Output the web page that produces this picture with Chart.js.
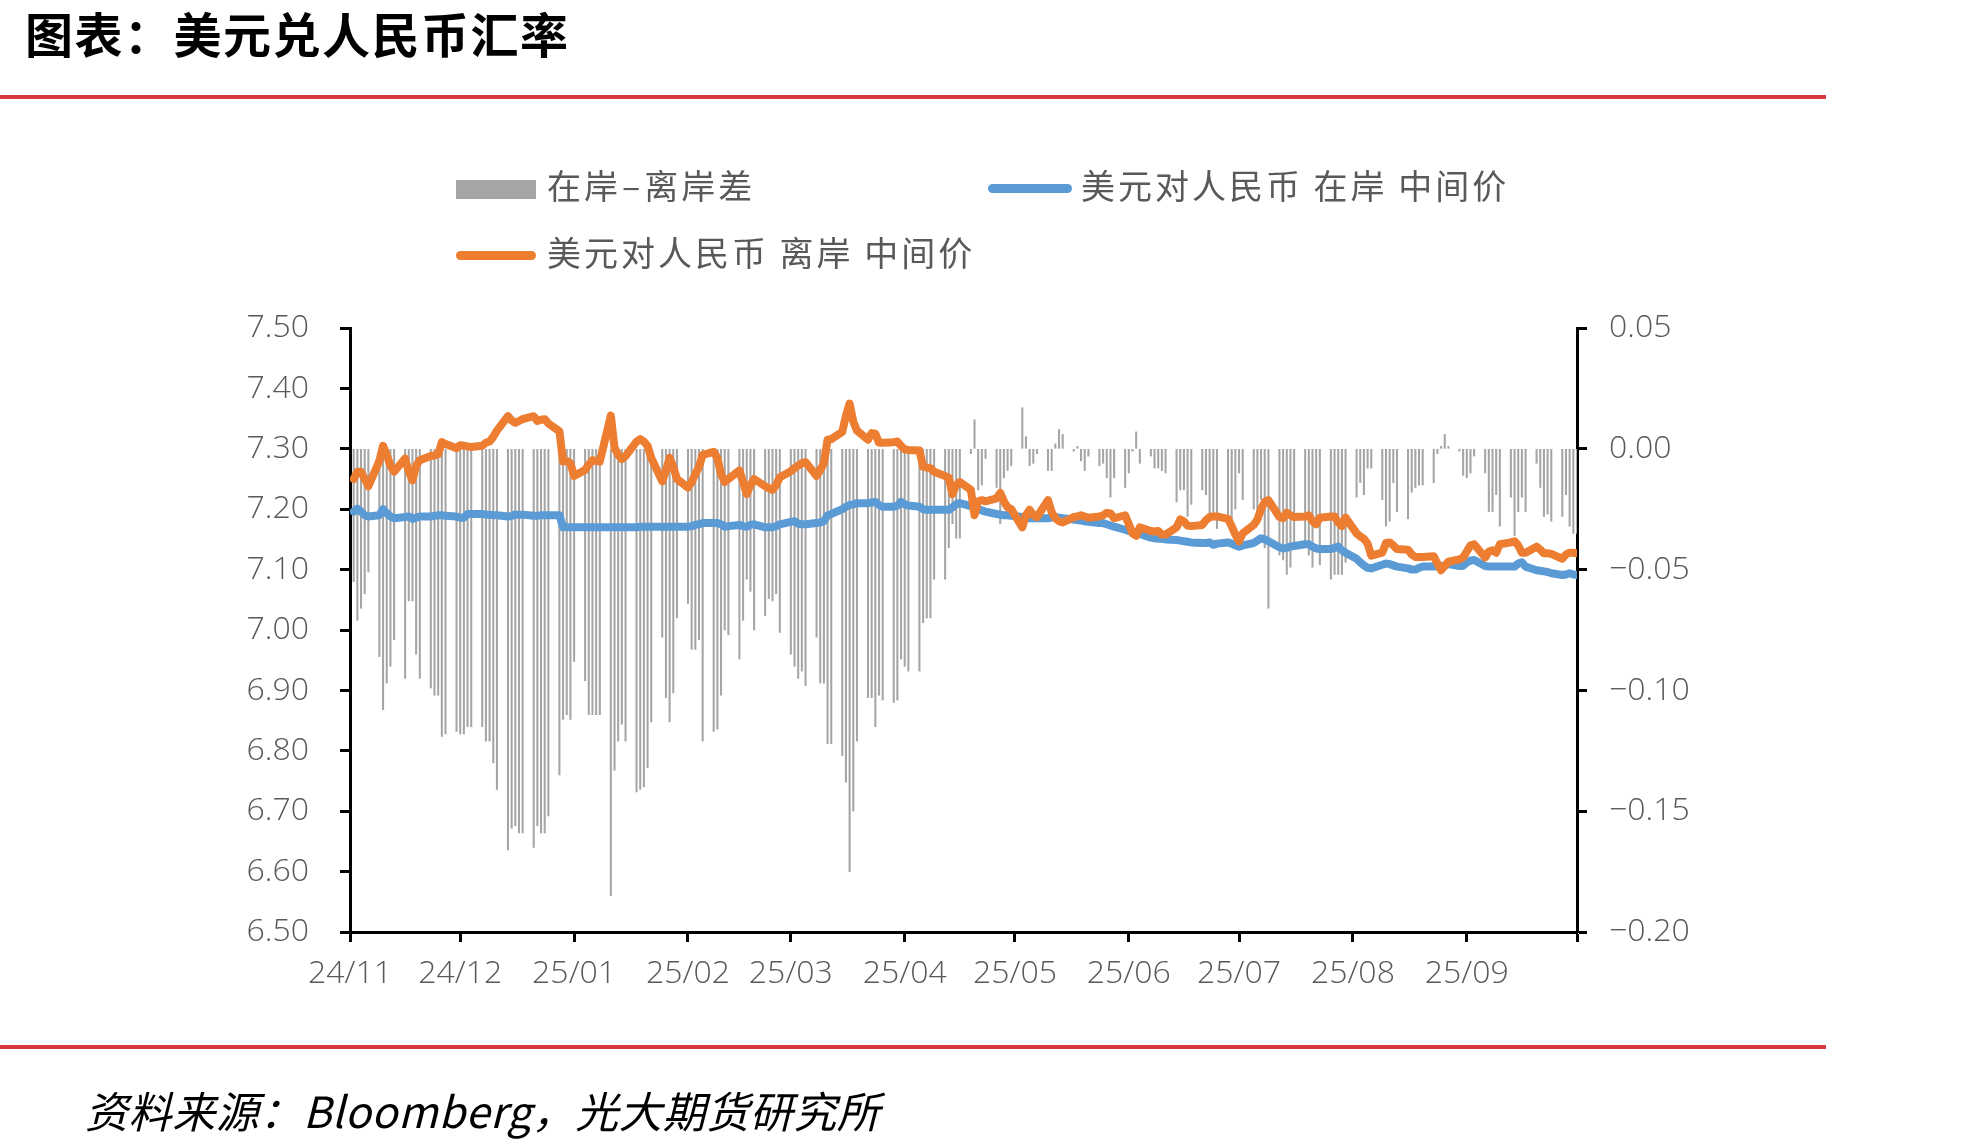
<!DOCTYPE html>
<html>
<head>
<meta charset="utf-8">
<script src="https://cdn.jsdelivr.net/npm/chart.js@4.4.1/dist/chart.umd.min.js"></script>
<style>
  body { margin: 0; width: 1987px; height: 1146px; background: #fff; position: relative; overflow: hidden;
         font-family: "Noto Sans CJK SC", sans-serif; }
  canvas { position: absolute; left: 0; top: 0; }
  #title { position: absolute; left: 25px; top: 8px; font-size: 48px; line-height: 48px; font-weight: 700;
           color: #000; letter-spacing: 1.5px; }
  .rule { position: absolute; left: 0; width: 1826px; height: 4px; background: #d7383b; }
  .lg { position: absolute; font-size: 34px; line-height: 34px; color: #595959; letter-spacing: 3px; white-space: pre; }
  .dash { margin: 0 1px; }
  .sw { position: absolute; }
  #source { position: absolute; left: 85px; top: 1088px; font-size: 43px; line-height: 43px; font-style: italic;
            color: #000; letter-spacing: 0.6px; white-space: pre; }
</style>
</head>
<body>
<canvas id="fxChart" width="1987" height="1146"></canvas>
<div id="title">图表：美元兑人民币汇率</div>
<div class="rule" style="top:95px"></div>
<div class="rule" style="top:1045px"></div>

<div class="sw" style="left:456px;top:180px;width:80px;height:19px;background:#a5a5a5"></div>
<div class="lg" style="left:547px;top:168px">在岸<span class="dash">–</span>离岸差</div>
<div class="sw" style="left:988px;top:184px;width:84px;height:9px;border-radius:5px;background:#5b9bd5"></div>
<div class="lg" style="left:1081px;top:168px">美元对人民币 在岸 中间价</div>
<div class="sw" style="left:456px;top:251px;width:80px;height:9px;border-radius:5px;background:#ed7d31"></div>
<div class="lg" style="left:547px;top:235px">美元对人民币 离岸 中间价</div>

<div id="source">资料来源：Bloomberg，光大期货研究所</div>

<script>
// month tick labels, one tick per month (axis runs 2024-11-03 .. 2025-10-03)
const monthLabels = ['24/11', '24/12', '25/01', '25/02', '25/03', '25/04', '25/05', '25/06', '25/07', '25/08', '25/09'];

// USD/CNY onshore, one value per weekday from 2024-11-04 to 2025-10-03
const onshore = [
  // 2024-11
  7.196, 7.201, 7.196, 7.190, 7.188, 7.190, 7.200, 7.193, 7.188, 7.185, 7.187, 7.188, 7.184, 7.186, 7.188, 7.188, 7.189, 7.190, 7.190, 7.189,
  // 2024-12
  7.188, 7.186, 7.186, 7.192, 7.192, 7.192, 7.191, 7.191, 7.190, 7.190, 7.188, 7.189, 7.191, 7.191, 7.191, 7.189, 7.189, 7.190, 7.190, 7.190, 7.190, 7.170,
  // 2025-01
  7.170, 7.170, 7.170, 7.170, 7.170, 7.170, 7.170, 7.170, 7.170, 7.170, 7.170, 7.170, 7.170, 7.170, 7.171, 7.171, 7.171, 7.171, 7.171, 7.171, 7.171, 7.171, 7.171,
  // 2025-02
  7.171, 7.172, 7.174, 7.175, 7.177, 7.177, 7.177, 7.175, 7.171, 7.172, 7.174, 7.172, 7.171, 7.174, 7.175, 7.170, 7.170, 7.170, 7.172, 7.175,
  // 2025-03
  7.179, 7.180, 7.176, 7.175, 7.175, 7.177, 7.178, 7.180, 7.190, 7.192, 7.200, 7.204, 7.207, 7.208, 7.210, 7.210, 7.211, 7.212, 7.207, 7.204, 7.204,
  // 2025-04
  7.206, 7.212, 7.208, 7.206, 7.204, 7.200, 7.199, 7.199, 7.199, 7.199, 7.199, 7.203, 7.208, 7.210, 7.205, 7.203, 7.200, 7.198, 7.196, 7.192, 7.191, 7.190,
  // 2025-05
  7.190, 7.189, 7.187, 7.186, 7.185, 7.185, 7.185, 7.185, 7.186, 7.187, 7.186, 7.185, 7.183, 7.182, 7.181, 7.180, 7.179, 7.177, 7.177, 7.175, 7.173, 7.171,
  // 2025-06
  7.166, 7.164, 7.162, 7.161, 7.159, 7.153, 7.152, 7.151, 7.151, 7.150, 7.149, 7.148, 7.147, 7.146, 7.145, 7.144, 7.144, 7.145, 7.141, 7.143, 7.145,
  // 2025-07
  7.143, 7.140, 7.138, 7.140, 7.144, 7.148, 7.152, 7.150, 7.147, 7.137, 7.135, 7.136, 7.138, 7.139, 7.142, 7.142, 7.138, 7.135, 7.134, 7.134, 7.136, 7.138, 7.132,
  // 2025-08
  7.128, 7.118, 7.112, 7.107, 7.103, 7.102, 7.108, 7.110, 7.109, 7.107, 7.105, 7.102, 7.100, 7.100, 7.103, 7.105, 7.105, 7.105, 7.105, 7.107, 7.109,
  // 2025-09
  7.106, 7.106, 7.112, 7.115, 7.116, 7.106, 7.105, 7.105, 7.105, 7.105, 7.105, 7.105, 7.110, 7.112, 7.105, 7.099, 7.098, 7.097, 7.096, 7.094, 7.091, 7.092,
  // 2025-10
  7.094, 7.092, 7.091
];

// USD/CNH offshore
const offshore = [
  // 2024-11
  7.250, 7.262, 7.262, 7.250, 7.238, 7.280, 7.305, 7.290, 7.272, 7.262, 7.284, 7.262, 7.248, 7.272, 7.281, 7.288, 7.289, 7.291, 7.311, 7.308,
  // 2024-12
  7.301, 7.306, 7.305, 7.304, 7.303, 7.305, 7.310, 7.312, 7.320, 7.330, 7.354, 7.347, 7.343, 7.346, 7.349, 7.354, 7.346, 7.348, 7.349, 7.342, 7.329, 7.279,
  // 2025-01
  7.280, 7.276, 7.255, 7.265, 7.274, 7.281, 7.280, 7.279, 7.355, 7.302, 7.290, 7.283, 7.288, 7.312, 7.316, 7.312, 7.305, 7.285, 7.246, 7.264, 7.285, 7.270, 7.250,
  // 2025-02
  7.236, 7.245, 7.258, 7.270, 7.290, 7.295, 7.285, 7.258, 7.245, 7.250, 7.264, 7.245, 7.225, 7.240, 7.250, 7.238, 7.235, 7.232, 7.240, 7.253,
  // 2025-03
  7.263, 7.268, 7.272, 7.276, 7.278, 7.255, 7.265, 7.276, 7.315, 7.316, 7.328, 7.355, 7.375, 7.345, 7.330, 7.315, 7.326, 7.325, 7.310, 7.310, 7.311,
  // 2025-04
  7.312, 7.305, 7.299, 7.298, 7.297, 7.270, 7.269, 7.268, 7.262, 7.255, 7.252, 7.225, 7.240, 7.245, 7.232, 7.190, 7.213, 7.215, 7.213, 7.218, 7.227, 7.213,
  // 2025-05
  7.203, 7.200, 7.170, 7.190, 7.199, 7.190, 7.187, 7.215, 7.195, 7.185, 7.180, 7.178, 7.187, 7.188, 7.190, 7.188, 7.186, 7.188, 7.190, 7.194, 7.193, 7.185,
  // 2025-06
  7.190, 7.175, 7.160, 7.156, 7.170, 7.164, 7.163, 7.164, 7.158, 7.158, 7.170, 7.183, 7.180, 7.173, 7.172, 7.174, 7.182, 7.187, 7.188, 7.188, 7.184,
  // 2025-07
  7.172, 7.158, 7.147, 7.160, 7.174, 7.183, 7.200, 7.212, 7.215, 7.187, 7.185, 7.194, 7.190, 7.187, 7.188, 7.190, 7.180, 7.175, 7.186, 7.188, 7.188, 7.178, 7.172,
  // 2025-08
  7.186, 7.160, 7.155, 7.151, 7.143, 7.123, 7.128, 7.144, 7.145, 7.140, 7.134, 7.133, 7.125, 7.121, 7.121, 7.121, 7.122, 7.110, 7.099, 7.106, 7.113,
  // 2025-09
  7.117, 7.120, 7.130, 7.140, 7.142, 7.120, 7.130, 7.132, 7.128, 7.142, 7.145, 7.147, 7.140, 7.128, 7.128, 7.138, 7.133, 7.127, 7.127, 7.126, 7.118, 7.125,
  // 2025-10
  7.128, 7.128, 7.127
];

// onshore - offshore spread (right axis)
const spread = [
  // 2024-11
  -0.055, -0.071, -0.066, -0.060, -0.051, -0.086, -0.108, -0.097, -0.090, -0.079, -0.095, -0.063, -0.063, -0.085, -0.095, -0.099, -0.102, -0.102, -0.119, -0.118,
  // 2024-12
  -0.117, -0.118, -0.118, -0.115, -0.115, -0.115, -0.121, -0.121, -0.130, -0.141, -0.166, -0.157, -0.156, -0.159, -0.159, -0.165, -0.156, -0.159, -0.159, -0.152, -0.135, -0.112,
  // 2025-01
  -0.110, -0.112, -0.088, -0.096, -0.110, -0.110, -0.110, -0.110, -0.185, -0.133, -0.121, -0.114, -0.121, -0.142, -0.141, -0.140, -0.132, -0.113, -0.078, -0.103, -0.113, -0.101, -0.070,
  // 2025-02
  -0.064, -0.083, -0.083, -0.079, -0.121, -0.117, -0.116, -0.102, -0.075, -0.077, -0.087, -0.071, -0.054, -0.059, -0.075, -0.069, -0.062, -0.063, -0.060, -0.076,
  // 2025-03
  -0.085, -0.090, -0.095, -0.092, -0.098, -0.078, -0.097, -0.097, -0.122, -0.122, -0.127, -0.138, -0.175, -0.150, -0.121, -0.103, -0.103, -0.115, -0.102, -0.104, -0.105,
  // 2025-04
  -0.104, -0.087, -0.090, -0.092, -0.092, -0.072, -0.070, -0.070, -0.054, -0.054, -0.041, -0.031, -0.037, -0.037, -0.002, 0.012, -0.017, -0.015, -0.004, -0.016, -0.031, -0.012,
  // 2025-05
  -0.009, -0.007, 0.017, 0.005, -0.007, -0.006, -0.002, -0.009, -0.009, 0.002, 0.008, 0.006, -0.001, 0.001, -0.005, -0.009, -0.003, -0.007, -0.006, -0.012, -0.020, -0.012,
  // 2025-06
  -0.016, -0.010, -0.001, 0.007, -0.006, -0.003, -0.008, -0.008, -0.009, -0.010, -0.022, -0.017, -0.017, -0.028, -0.023, -0.017, -0.019, -0.028, -0.029, -0.033, -0.029,
  // 2025-07
  -0.032, -0.025, -0.010, -0.021, -0.025, -0.031, -0.021, -0.041, -0.066, -0.044, -0.046, -0.052, -0.049, -0.040, -0.040, -0.044, -0.049, -0.029, -0.048, -0.054, -0.052, -0.052, -0.052,
  // 2025-08
  -0.047, -0.020, -0.014, -0.019, -0.008, -0.008, -0.021, -0.032, -0.030, -0.014, -0.026, -0.029, -0.018, -0.016, -0.015, -0.015, -0.014, -0.002, 0.001, 0.006, 0.001,
  // 2025-09
  -0.001, -0.011, -0.012, -0.010, -0.003, -0.010, -0.026, -0.026, -0.019, -0.032, -0.020, -0.036, -0.026, -0.020, -0.026, -0.006, -0.016, -0.028, -0.027, -0.030, -0.028, -0.019,
  // 2025-10
  -0.032, -0.035, -0.035
];

// x axis = days since 2024-11-03; the data points are the weekdays
const DAY = 86400000;
const start = Date.UTC(2024, 10, 3);
const tradeDays = [];
for (let t = Date.UTC(2024, 10, 4); t <= Date.UTC(2025, 9, 3); t += DAY) {
    const wd = new Date(t).getUTCDay();
    if (wd !== 0 && wd !== 6) tradeDays.push((t - start) / DAY);
}
const monthTicks = [];
for (let i = 0; i <= monthLabels.length; i++) {
    monthTicks.push((Date.UTC(2024, 10 + i, 3) - start) / DAY);
}

const toPoints = (arr) => tradeDays.map((d, i) => ({ x: d, y: arr[i] }));

const tickFont = { family: 'Open Sans', size: 32, weight: 300 };
const axisGrid = { drawOnChartArea: false, drawTicks: true, tickLength: 10, tickWidth: 3, tickColor: '#000' };
const axisBorder = { display: true, color: '#000', width: 3 };

const ctx = document.getElementById('fxChart').getContext('2d');
new Chart(ctx, {
    type: 'bar',
    data: {
        datasets: [
            {
                type: 'line',
                label: '美元对人民币 离岸 中间价',
                data: toPoints(offshore),
                yAxisID: 'y',
                borderColor: '#ed7d31',
                borderWidth: 8,
                pointRadius: 0,
                tension: 0,
                borderJoinStyle: 'round',
                borderCapStyle: 'round',
                order: 1
            },
            {
                type: 'line',
                label: '美元对人民币 在岸 中间价',
                data: toPoints(onshore),
                yAxisID: 'y',
                borderColor: '#5b9bd5',
                borderWidth: 8,
                pointRadius: 0,
                tension: 0,
                borderJoinStyle: 'round',
                borderCapStyle: 'round',
                order: 2
            },
            {
                type: 'bar',
                label: '在岸-离岸差',
                data: toPoints(spread),
                yAxisID: 'y1',
                backgroundColor: '#a5a5a5',
                barThickness: 1.4,
                order: 3
            }
        ]
    },
    options: {
        responsive: false,
        animation: false,
        devicePixelRatio: 1,
        layout: { padding: { top: 328, left: 0, right: 0, bottom: 0 } },
        plugins: { legend: { display: false }, tooltip: { enabled: false } },
        scales: {
            x: {
                type: 'linear',
                min: 0,
                max: monthTicks[monthTicks.length - 1],
                offset: false,
                grid: { ...axisGrid, offset: false },
                border: axisBorder,
                afterBuildTicks: (axis) => { axis.ticks = monthTicks.map(v => ({ value: v })); },
                afterFit: (axis) => { axis.height = 214; },
                ticks: {
                    autoSkip: false,
                    maxRotation: 0,
                    padding: 13,
                    color: '#595959',
                    font: tickFont,
                    callback: (v) => {
                        const i = monthTicks.indexOf(v);
                        return i >= 0 && i < monthLabels.length ? monthLabels[i] : '';
                    }
                }
            },
            y: {
                position: 'left',
                min: 6.5,
                max: 7.5,
                grid: axisGrid,
                border: axisBorder,
                afterFit: (axis) => { axis.width = 350; },
                ticks: {
                    stepSize: 0.1,
                    padding: 31,
                    color: '#595959',
                    font: tickFont,
                    callback: (v) => v.toFixed(2)
                }
            },
            y1: {
                position: 'right',
                min: -0.2,
                max: 0.05,
                grid: axisGrid,
                border: axisBorder,
                afterFit: (axis) => { axis.width = 410; },
                ticks: {
                    stepSize: 0.05,
                    padding: 22,
                    color: '#595959',
                    font: tickFont,
                    callback: (v) => (v < -1e-9 ? '\u2212' : '') + Math.abs(v).toFixed(2)
                }
            }
        }
    }
});
</script>
</body>
</html>
